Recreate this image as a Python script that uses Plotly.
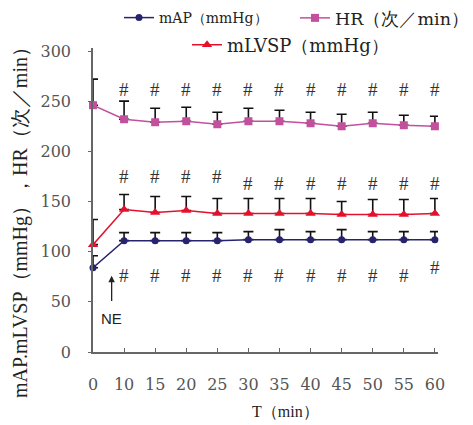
import plotly.graph_objects as go

categories = ["0", "10", "15", "20", "25", "30", "35", "40", "45", "50", "55", "60"]

hr_values = [246, 232, 229, 230, 227, 230, 230, 228, 225, 228, 226, 225]
hr_err = [26, 18, 14, 14, 12, 13, 11, 11, 12, 11, 10, 10]

lvsp_values = [107, 142, 139, 141, 138, 138, 138, 138, 137, 137, 137, 138]
lvsp_err = [25, 15, 16, 14, 15, 15, 15, 15, 13, 15, 15, 15]

map_values = [84, 111, 111, 111, 111, 112, 112, 112, 112, 112, 112, 112]
map_err = [12, 8, 8, 8, 8, 8, 10, 8, 10, 8, 8, 8]

hash_hr_y = [None, 262, 262, 262, 262, 262, 262, 262, 262, 262, 262, 262]
hash_lvsp_y = [None, 175, 175, 175, 175, 168, 168, 168, 168, 168, 168, 168]
hash_map_y = [None, 76, 76, 76, 76, 76, 76, 76, 76, 76, 76, 84]

y_ticks = [0, 50, 100, 150, 200, 250, 300]

SERIF = "DejaVu Serif"

def series(name, vals, errs, color, symbol, size, legend):
    return go.Scatter(
        x=categories, y=vals, name=name, mode="lines+markers",
        line=dict(color=color, width=1.5),
        marker=dict(color=color, symbol=symbol, size=size),
        error_y=dict(type="data", array=errs, arrayminus=[0] * len(errs),
                     symmetric=False, color="#111111", thickness=1.6, width=5),
        cliponaxis=False, legend=legend,
    )

fig = go.Figure()
fig.add_trace(series("mAP（mmHg）", map_values, map_err, "#27236e", "circle", 7, "legend"))
fig.add_trace(series("HR（次／min）", hr_values, hr_err, "#c2509c", "square", 8, "legend2"))
fig.add_trace(series("mLVSP（mmHg）", lvsp_values, lvsp_err, "#e4102c", "triangle-up", 9, "legend3"))

annotations = []
for row in (hash_hr_y, hash_lvsp_y, hash_map_y):
    for i, yv in enumerate(row):
        if yv is None:
            continue
        annotations.append(dict(x=i, y=yv, xref="x", yref="y", text="#", showarrow=False,
                                font=dict(family="Liberation Serif", size=19, color="#333333")))

annotations.append(dict(x=0.6, y=76, ax=0.6, ay=33, axref="x", ayref="y",
                        text="NE", showarrow=True, arrowhead=2, arrowsize=1,
                        arrowwidth=1.3, arrowcolor="#222222", startstandoff=8,
                        font=dict(family="Liberation Sans", size=15, color="#222222")))

annotations.append(dict(x=-0.2116, y=0.444, xref="paper", yref="paper", textangle=-90,
                        text="mAP.mLVSP（mmHg），HR（次／min）", showarrow=False,
                        xanchor="center", yanchor="middle",
                        font=dict(family="Liberation Serif", size=20, color="#222222")))
annotations.append(dict(x=0.559, y=-0.197, xref="paper", yref="paper",
                        text="T（min）", showarrow=False,
                        xanchor="center", yanchor="middle",
                        font=dict(family="Liberation Serif", size=16, color="#222222")))

def leg(x, y, size):
    return dict(orientation="h", x=x, xanchor="left", y=y, yanchor="middle",
                font=dict(family=SERIF, size=size, color="#222222"),
                bgcolor="rgba(0,0,0,0)", itemwidth=30)

fig.update_layout(
    width=473, height=425,
    margin=dict(l=85, r=43, t=40, b=81, autoexpand=False),
    paper_bgcolor="white", plot_bgcolor="white",
    font=dict(family=SERIF, color="#555555"),
    annotations=annotations,
    legend=leg(0.0754, 1.0987, 14),
    legend2=leg(0.5855, 1.0987, 17.5),
    legend3=leg(0.2725, 1.0099, 18),
    showlegend=True,
)

fig.update_xaxes(
    type="category", range=[0, 11.1],
    showline=True, linecolor="#666666", linewidth=1.5,
    ticks="inside", ticklen=4, tickcolor="#666666",
    showgrid=False, zeroline=False,
    tickfont=dict(family=SERIF, size=16, color="#555555"),
    ticklabelstandoff=17,
)
fig.update_yaxes(
    range=[0, 303], tickvals=y_ticks,
    showline=True, linecolor="#666666", linewidth=1.5,
    ticks="outside", ticklen=3, tickcolor="#666666",
    showgrid=False, zeroline=False,
    tickfont=dict(family=SERIF, size=16, color="#555555"),
    ticklabelstandoff=14,
)

fig.write_html("out.html")
